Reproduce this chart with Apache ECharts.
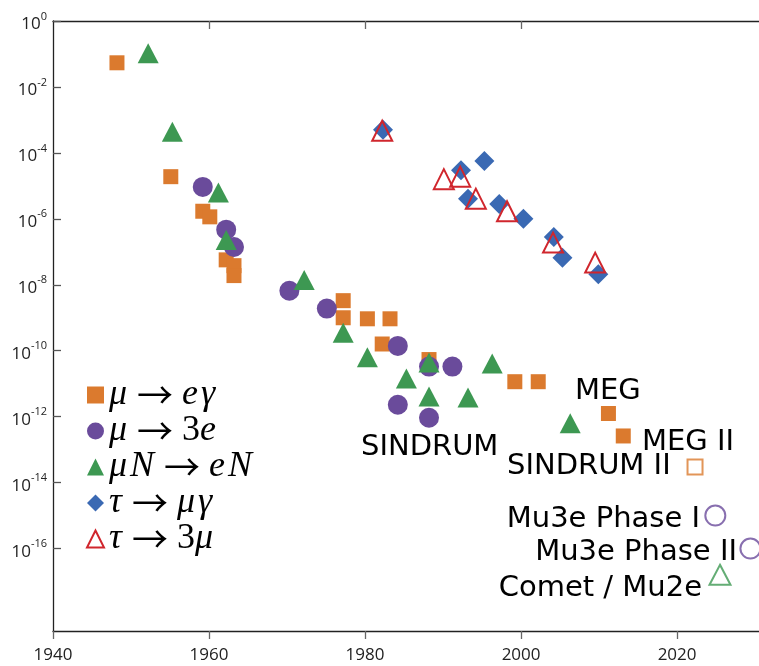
<!DOCTYPE html>
<html>
<head>
<meta charset="utf-8">
<script src="https://cdn.jsdelivr.net/npm/echarts@6/dist/echarts.min.js"></script>
<style>html,body{margin:0;padding:0;background:#fff}#c{width:759px;height:666px}</style>
</head>
<body>
<div id="c"></div>
<script>
// ---- data (year, upper limit on branching ratio) ----
const muEGammaYears  = [1948.2,1955.1,1959.2,1960.1,1962.2,1963.2,1963.2,1977.2,1977.2,1980.3,1983.2,1982.2,1988.2,1999.2,2002.2,2011.2,2013.1];
const muEGammaValues = [5.4e-2,1.9e-5,1.7e-6,1.15e-6,5.7e-8,3.8e-8,1.9e-8,3.3e-9,1.0e-9,9.3e-10,9.3e-10,1.6e-10,5.4e-11,1.15e-11,1.15e-11,1.25e-12,2.6e-13];

const mu3eYears  = [1959.2,1962.2,1963.2,1970.3,1975.1,1984.2,1988.2,1991.2,1984.2,1988.2];
const mu3eValues = [9.3e-6,4.7e-7,1.4e-7,6.6e-9,1.9e-9,1.4e-10,3.3e-11,3.3e-11,2.3e-12,9.3e-13];

const muNYears  = [1952.2,1955.3,1961.2,1962.2,1972.2,1977.2,1980.3,1985.3,1988.2,1988.2,1993.2,1996.3,2006.3];
const muNValues = [1.05e-1,4.4e-4,6.3e-6,2.3e-7,1.4e-8,3.5e-10,6.3e-11,1.45e-11,4.4e-11,4.1e-12,3.8e-12,4.1e-11,6.3e-13];

const tauMuGammaYears  = [1982.3,1992.3,1995.3,1993.2,1997.2,2000.3,2004.2,2005.3,2009.9];
const tauMuGammaValues = [5e-4,3e-5,5.7e-5,4.1e-6,2.8e-6,1e-6,2.8e-7,6.6e-8,2.1e-8];

const tau3muYears  = [1982.2,1990.1,1992.2,1994.2,1998.2,2004.1,2009.5];
const tau3muValues = [4.7e-4,1.6e-5,1.9e-5,4.1e-6,1.7e-6,1.9e-7,4.7e-8];

// future sensitivities
const megIIYear = [2022.3], megIIValue = [3e-14];
const mu3eFutureYears = [2024.9, 2029.4], mu3eFutureValues = [1e-15, 1e-16];
const cometYear = [2025.5], cometValue = [1.6e-17];

const yTickValues = [1,1e-2,1e-4,1e-6,1e-8,1e-10,1e-12,1e-14,1e-16];
const xTickLabels = [1940,1960,1980,2000,2020];
const topTickValues = [1960,1980,2000];

const seriesNames = ['μ → eγ','μ → 3e','μN → eN','τ → μγ','τ → 3μ'];
const legendRich = {
  'μ → eγ':  '{i|μ}{a|→}{i|e}{g|γ}',
  'μ → 3e':  '{i|μ}{a|→}{r|3}{i|e}',
  'μN → eN': '{i|μ}{g|N}{a|→}{i|e}{g|N}',
  'τ → μγ':  '{i|τ}{a|→}{i|μ}{g|γ}',
  'τ → 3μ':  '{i|τ}{a|→}{r|3}{i|μ}'
};

const C = {orange:'#DB7A2E', purple:'#6A4B9B', green:'#3D9852', blue:'#3A69B3', red:'#D0262D'};
const zip = (a,b) => a.map((v,i)=>[v,b[i]]);

const chart = echarts.init(document.getElementById('c'), null, {renderer:'canvas'});
const axisFont = 'Open Sans';
const annFont = '29px "DejaVu Sans"';

const option = {
  animation: false,
  backgroundColor: '#fff',
  grid: {left: 53, right: 0, top: 21, bottom: 35, containLabel: false},
  xAxis: [{
    type: 'value', min: 1940, max: 2030.5, position: 'bottom',
    axisLine: {show: true, onZero: false, lineStyle: {color: '#222', width: 1.3}},
    axisTick: {show: true, inside: false, length: 8, customValues: xTickLabels, lineStyle: {color: '#666', width: 1.3}},
    axisLabel: {show: true, margin: 16, fontFamily: axisFont, fontSize: 17, color: '#222',
      customValues: xTickLabels, formatter: v => String(v)},
    splitLine: {show: false}
  },{
    type: 'value', min: 1940, max: 2030.5, position: 'top',
    axisLine: {show: true, onZero: false, lineStyle: {color: '#222', width: 1.3}},
    axisTick: {show: true, inside: true, length: 8, customValues: topTickValues, lineStyle: {color: '#666', width: 1.3}},
    axisLabel: {show: false},
    splitLine: {show: false}
  }],
  yAxis: {
    type: 'log', logBase: 10, min: Math.pow(10,-18.5), max: 1,
    axisLine: {show: true, onZero: false, lineStyle: {color: '#222', width: 1.3}},
    axisTick: {show: true, inside: true, length: 8, customValues: yTickValues, lineStyle: {color: '#555', width: 1.3}},
    axisLabel: {
      show: true, margin: 6, customValues: yTickValues,
      formatter: v => '{b|10}{s|' + Math.round(Math.log10(v)) + '}',
      rich: {
        b: {fontFamily: axisFont, fontSize: 17, color: '#222', lineHeight: 24, verticalAlign: 'bottom'},
        s: {fontFamily: axisFont, fontSize: 11, color: '#222', lineHeight: 24, verticalAlign: 'top', padding: [2, 0, 0, 0]}
      }
    },
    splitLine: {show: false}
  },
  legend: {
    data: seriesNames, orient: 'vertical', left: 81, top: 372,
    itemWidth: 17, itemHeight: 17, itemGap: 0,
    formatter: n => legendRich[n],
    textStyle: {
      rich: {
        i: {fontFamily: 'Liberation Serif', fontStyle: 'italic', fontSize: 36, color: '#000', lineHeight: 36},
        g: {fontFamily: 'Liberation Serif', fontStyle: 'italic', fontSize: 36, color: '#000', lineHeight: 36, padding: [0, 0, 0, 3]},
        r: {fontFamily: 'Liberation Serif', fontSize: 36, color: '#000', lineHeight: 36},
        a: {fontFamily: '"Noto Sans CJK SC"', fontSize: 36, color: '#000', lineHeight: 36, padding: [0, 9, 0, 10]}
      }
    }
  },
  series: [
    {name: seriesNames[0], type: 'scatter', symbol: 'rect', symbolSize: 15, data: zip(muEGammaYears, muEGammaValues),
      itemStyle: {color: C.orange, opacity: 1}},
    {name: seriesNames[1], type: 'scatter', symbol: 'circle', symbolSize: 20, data: zip(mu3eYears, mu3eValues),
      itemStyle: {color: C.purple, opacity: 1}},
    {name: seriesNames[2], type: 'scatter', symbol: 'triangle', symbolSize: [21, 20], data: zip(muNYears, muNValues),
      itemStyle: {color: C.green, opacity: 1}},
    {name: seriesNames[3], type: 'scatter', symbol: 'diamond', symbolSize: 20, data: zip(tauMuGammaYears, tauMuGammaValues),
      itemStyle: {color: C.blue, opacity: 1}},
    {name: seriesNames[4], type: 'scatter', symbol: 'triangle', symbolSize: [20, 20], data: zip(tau3muYears, tau3muValues),
      itemStyle: {color: 'rgba(255,255,255,0)', borderColor: C.red, borderWidth: 2, opacity: 1}},
    {name: 'MEG II goal', type: 'scatter', symbol: 'rect', symbolSize: 15, data: zip(megIIYear, megIIValue),
      itemStyle: {color: 'rgba(255,255,255,0)', borderColor: C.orange, borderWidth: 2}},
    {name: 'Mu3e goals', type: 'scatter', symbol: 'circle', symbolSize: 20, data: zip(mu3eFutureYears, mu3eFutureValues),
      itemStyle: {color: 'rgba(255,255,255,0)', borderColor: C.purple, borderWidth: 2}},
    {name: 'Comet goal', type: 'scatter', symbol: 'triangle', symbolSize: [21, 20], data: zip(cometYear, cometValue),
      itemStyle: {color: 'rgba(255,255,255,0)', borderColor: C.green, borderWidth: 2}}
  ],
  graphic: [
    {type: 'text', left: 361, top: 432.5, style: {text: 'SINDRUM', font: annFont, fill: '#000'}},
    {type: 'text', left: 575, top: 376.5, style: {text: 'MEG', font: annFont, fill: '#000'}},
    {type: 'text', left: 642, top: 427.5, style: {text: 'MEG II', font: annFont, fill: '#000'}},
    {type: 'text', left: 507, top: 451.5, style: {text: 'SINDRUM II', font: annFont, fill: '#000'}},
    {type: 'text', right: 759 - 700, top: 504.5, style: {text: 'Mu3e Phase I', font: annFont, fill: '#000'}},
    {type: 'text', right: 759 - 737, top: 537.5, style: {text: 'Mu3e Phase II', font: annFont, fill: '#000'}},
    {type: 'text', right: 759 - 702, top: 573.5, style: {text: 'Comet / Mu2e', font: annFont, fill: '#000'}}
  ]
};
chart.setOption(option);
</script>
</body>
</html>
